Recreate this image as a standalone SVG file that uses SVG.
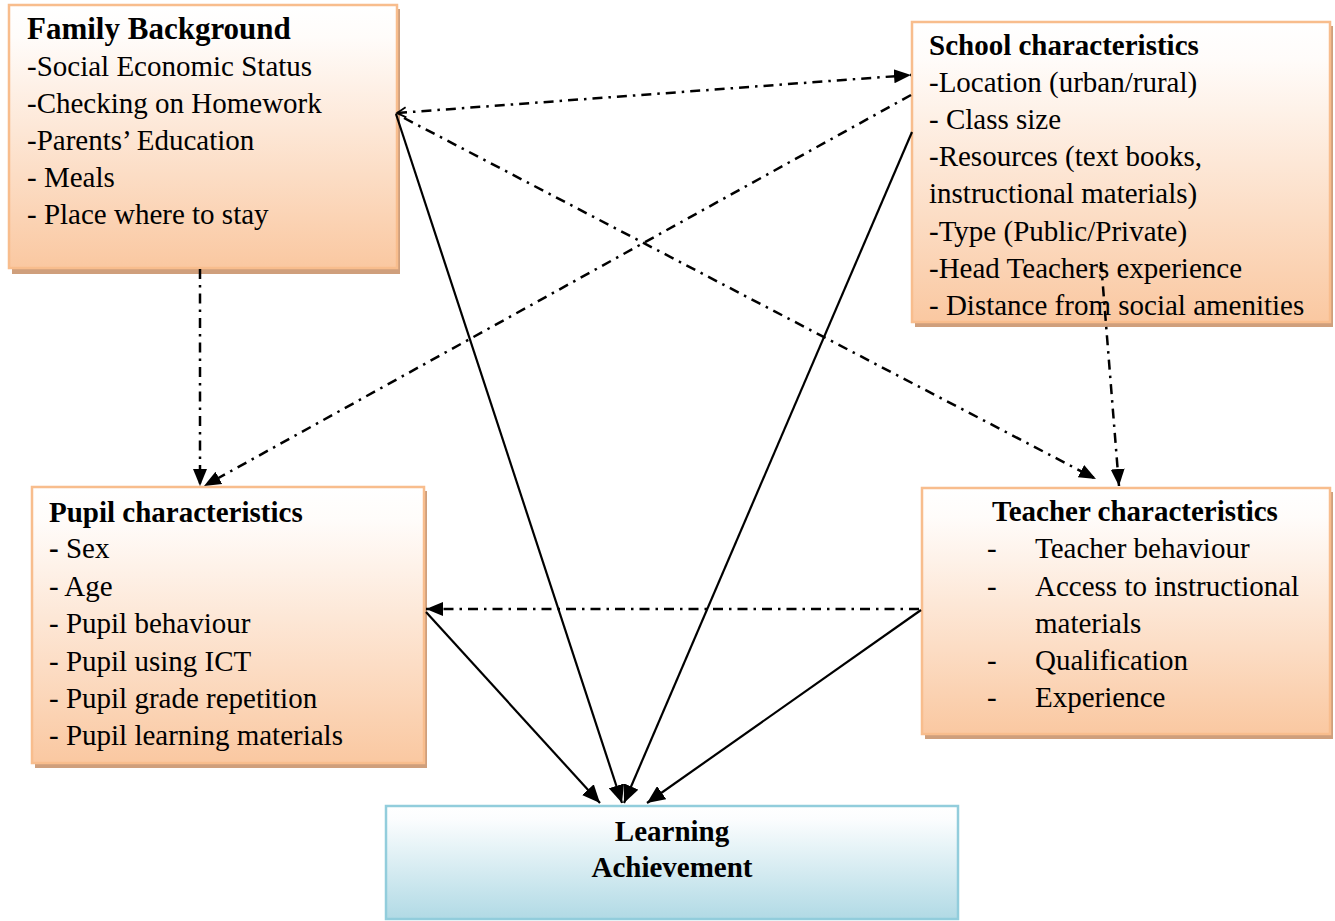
<svg xmlns="http://www.w3.org/2000/svg" width="1335" height="921" viewBox="0 0 1335 921">
<style>
  text { font-family: "Liberation Serif", "Times New Roman", serif; font-size: 29px; fill: #000; }
  .h { font-weight: bold; }
  .box { fill: url(#peach); stroke: #f8bd8d; stroke-width: 2.5; }
  .shadow { fill: #cf9f7c; }
  .lbox { fill: url(#blue); stroke: #92cddc; stroke-width: 2.5; }
  .solid { stroke: #000; stroke-width: 2.2; fill: none; marker-end: url(#big); }
  .dd { stroke: #000; stroke-width: 2.5; fill: none; stroke-dasharray: 10 6 2.5 6; marker-end: url(#small); }
</style>
<defs>
  <linearGradient id="peach" x1="0" y1="0" x2="0" y2="1">
    <stop offset="0" stop-color="#ffffff"/>
    <stop offset="0.12" stop-color="#fffcfa"/>
    <stop offset="1" stop-color="#fac8a1"/>
  </linearGradient>
  <linearGradient id="blue" x1="0" y1="0" x2="0" y2="1">
    <stop offset="0" stop-color="#ffffff"/>
    <stop offset="0.12" stop-color="#fbfdfe"/>
    <stop offset="1" stop-color="#b1dae5"/>
  </linearGradient>
  <marker id="big" markerUnits="userSpaceOnUse" markerWidth="20" markerHeight="16" refX="18" refY="8" orient="auto">
    <path d="M0,0 L18,8 L0,16 Z" fill="#000"/>
  </marker>
  <marker id="small" markerUnits="userSpaceOnUse" markerWidth="18" markerHeight="16" refX="17" refY="8" orient="auto">
    <path d="M0,1 L17,8 L0,15 Z" fill="#000"/>
  </marker>
  <marker id="open" markerUnits="userSpaceOnUse" markerWidth="12" markerHeight="12" refX="10" refY="6" orient="auto-start-reverse">
    <path d="M1,1 L10,6 L1,11" fill="none" stroke="#000" stroke-width="1.8"/>
  </marker>
</defs>

<g id="family">
  <rect class="shadow" x="12" y="9" width="388" height="265"/>
  <rect class="box" x="9" y="5" width="388" height="263"/>
  <text class="h" x="27" y="39" style="font-size:31px">Family Background</text>
  <text x="27" y="76">-Social Economic Status</text>
  <text x="27" y="113">-Checking on Homework</text>
  <text x="27" y="150">-Parents’ Education</text>
  <text x="27" y="187">- Meals</text>
  <text x="27" y="224">- Place where to stay</text>
</g>

<g id="school">
  <rect class="shadow" x="915" y="26" width="418" height="301"/>
  <rect class="box" x="912" y="22" width="418" height="300"/>
  <text class="h" x="929" y="55">School characteristics</text>
  <text x="929" y="92">-Location (urban/rural)</text>
  <text x="929" y="129">- Class size</text>
  <text x="929" y="166">-Resources (text books,</text>
  <text x="929" y="203">instructional materials)</text>
  <text x="929" y="241">-Type (Public/Private)</text>
  <text x="929" y="278">-Head Teachers experience</text>
  <text x="929" y="315">- Distance from social amenities</text>
</g>

<g id="pupil">
  <rect class="shadow" x="35" y="491" width="392" height="277"/>
  <rect class="box" x="32" y="487" width="392" height="276"/>
  <text class="h" x="49" y="522">Pupil characteristics</text>
  <text x="49" y="558"><tspan class="h">-</tspan> Sex</text>
  <text x="49" y="596">- Age</text>
  <text x="49" y="633">- Pupil behaviour</text>
  <text x="49" y="671">- Pupil using ICT</text>
  <text x="49" y="708">- Pupil grade repetition</text>
  <text x="49" y="745">- Pupil learning materials</text>
</g>

<g id="teacher">
  <rect class="shadow" x="925" y="492" width="408" height="247"/>
  <rect class="box" x="922" y="488" width="408" height="246"/>
  <text class="h" x="992" y="521">Teacher characteristics</text>
  <text x="987" y="558">-</text><text x="1035" y="558">Teacher behaviour</text>
  <text x="987" y="596">-</text><text x="1035" y="596">Access to instructional</text>
  <text x="1035" y="633">materials</text>
  <text x="987" y="670">-</text><text x="1035" y="670">Qualification</text>
  <text x="987" y="707">-</text><text x="1035" y="707">Experience</text>
</g>

<g id="learning">
  <rect class="lbox" x="386" y="806" width="572" height="113"/>
  <text class="h" x="672" y="841" text-anchor="middle">Learning</text>
  <text class="h" x="672" y="877" text-anchor="middle">Achievement</text>
</g>

<g id="connectors">
  <line class="solid" x1="396" y1="114" x2="622" y2="803"/>
  <line class="solid" x1="912" y1="132" x2="624" y2="803"/>
  <line class="solid" x1="426" y1="612" x2="600" y2="803"/>
  <line class="solid" x1="921" y1="610" x2="647" y2="803"/>
  <line class="dd" x1="397" y1="113" x2="911" y2="75" style="marker-start:url(#open)"/>
  <line class="dd" x1="404" y1="118" x2="1096" y2="479"/>
  <line class="dd" x1="911" y1="95" x2="204" y2="486"/>
  <line class="dd" x1="200" y1="269" x2="200" y2="486"/>
  <line class="dd" x1="1101" y1="262" x2="1119" y2="486"/>
  <line class="dd" x1="919" y1="609" x2="426" y2="609"/>
</g>
</svg>
